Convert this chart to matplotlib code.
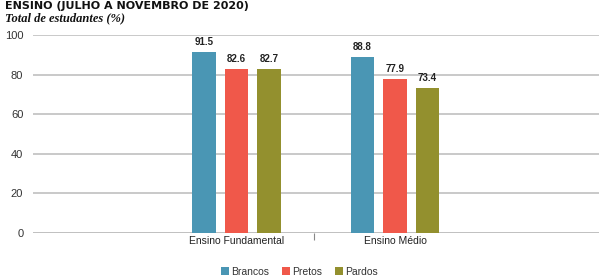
import matplotlib.pyplot as plt
import numpy as np

# Data
categories = ['Ensino Fundamental', 'Ensino Médio']
series = ['Brancos', 'Pretos', 'Pardos']
brancos = [91.5, 88.8]
pretos = [82.6, 77.9]
pardos = [82.7, 73.4]
colors = ['#4a96b4', '#f0584a', '#93902e']

fig = plt.figure(figsize=(5.99, 2.79), dpi=100)
ax = fig.add_axes([0.0551, 0.1649, 0.9449, 0.7097])

x = np.arange(len(categories))
width = 0.151
step = 0.205
for i, (vals, name, c) in enumerate(zip([brancos, pretos, pardos], series, colors)):
    pos = x + (i - 1) * step
    bars = ax.bar(pos, vals, width, color=c, label=name, zorder=3)
    for b, v in zip(bars, vals):
        ax.text(b.get_x() + b.get_width() / 2, v + 2.5, f'{v:.1f}',
                ha='center', va='bottom', fontsize=7, color='#222222',
                family='Liberation Sans', fontweight='bold')

ax.set_xlim(-1.284, 2.287)
ax.set_ylim(0, 100)
ax.set_yticks(range(0, 101, 20))
ax.set_xticks(x)
ax.set_xticklabels(categories, family='Liberation Sans', fontsize=7.5, color='#222222')
ax.set_xticks([0.49], minor=True)
ax.tick_params(axis='x', which='major', length=0, pad=2)
ax.tick_params(axis='x', which='minor', length=5, color='#888888', width=0.8, direction='out')
ax.tick_params(axis='y', length=0, pad=7, labelsize=8, labelcolor='#333333')
for lab in ax.get_yticklabels():
    lab.set_family('Liberation Sans')
ax.grid(axis='y', color='#c0c0c0', linewidth=1.2, zorder=0)
for s in ax.spines.values():
    s.set_visible(False)
ax.axhline(0, color='#c0c0c0', linewidth=1.2, zorder=1)

fig.text(0.008, 0.9677, 'ENSINO (JULHO A NOVEMBRO DE 2020)', fontsize=8,
         fontweight='bold', ha='left', va='baseline', color='#111111')
fig.text(0.008, 0.9247, 'Total de estudantes (%)', fontsize=9, style='italic',
         fontweight='bold', family='Liberation Serif', ha='left', va='baseline', color='#111111')

leg = fig.legend(loc='lower center', bbox_to_anchor=(0.5, -0.025), ncol=3, frameon=False,
                 handlelength=0.8, handleheight=0.8, handletextpad=0.2, columnspacing=1.2,
                 prop={'family': 'Liberation Sans', 'size': 7.5})
for t in leg.get_texts():
    t.set_color('#333333')

fig.savefig('out.png', dpi=100)
